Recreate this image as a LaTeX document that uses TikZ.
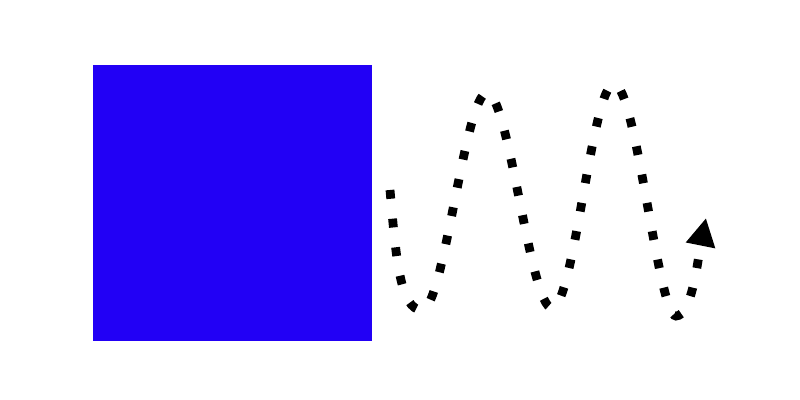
\documentclass[tikz,border=0pt]{standalone}
\usepackage{xcolor}
\usetikzlibrary{arrows.meta}
\definecolor{squareblue}{RGB}{34,0,245}

\begin{document}
\begin{tikzpicture}[
      block/.style={fill=squareblue, inner sep=0pt, minimum width=6.975cm, minimum height=6.9cm},
      wave/.style={line width=0.22cm, dash pattern=on 0.22cm off 0.5cm, -{Triangle[length=0.7cm,width=0.7cm]}}
    ]
      \useasboundingbox (0,0) rectangle (20,10);
      \node[block] (square) at (5.8125,4.925) {};
      % wave points
      \coordinate (w0) at (9.75,5.25);
      \coordinate (w1) at (10.55,2.25);
      \coordinate (w2) at (12.175,7.675);
      \coordinate (w3) at (13.8,2.3);
      \coordinate (w4) at (15.35,7.9);
      \coordinate (w5) at (16.9,2.1);
      \coordinate (w6) at (17.65,4.55);
      \draw[wave] (w0) .. controls +(0.15,-1.7) and +(-0.55,0) .. (w1)
        .. controls +(0.55,0) and +(-0.55,0) .. (w2)
        .. controls +(0.55,0) and +(-0.55,0) .. (w3)
        .. controls +(0.55,0) and +(-0.55,0) .. (w4)
        .. controls +(0.55,0) and +(-0.45,0) .. (w5)
        .. controls +(0.4,0) and +(-0.2,-1) .. (w6);
    \end{tikzpicture}
\end{document}
